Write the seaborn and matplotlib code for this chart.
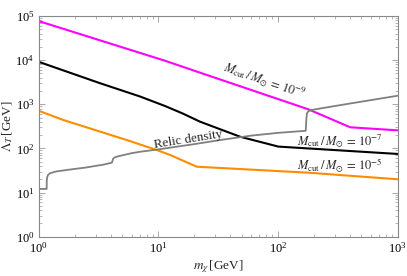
import matplotlib
matplotlib.use("Agg")
import matplotlib.pyplot as plt
import matplotlib.ticker as mticker
import pandas as pd
import seaborn as sns

sns.set_theme(style="ticks")
plt.rcParams["font.family"] = ["Liberation Serif", "DejaVu Serif"]
plt.rcParams["mathtext.fontset"] = "stix"

# M_cut / M_sun = 1e-9 (magenta)
mag_x = [1.0, 11.4, 22.4, 180, 403, 1000]
mag_y = [77000, 9700, 5200, 769, 301, 257]

# M_cut / M_sun = 1e-7 (black)
blk_x = [1.0, 3.27, 7.06, 11.4, 16.0, 22.4, 48.4, 101, 1000]
blk_y = [9200, 3000, 1500, 914, 620, 403, 184, 110, 75]

# M_cut / M_sun = 1e-5 (orange)
org_x = [1.0, 1.61, 5.46, 9.73, 12.6, 21.0, 180, 1000]
org_y = [716, 441, 155, 92, 71, 38.5, 28.2, 20]

# relic density (gray)
rel_x = [1.0, 1.17, 1.172, 1.18, 1.2, 1.25, 1.4, 1.8, 2.5, 3.5, 4.1, 4.15, 4.2, 4.3,
         4.6, 6.0, 7.06, 10, 20, 33, 60, 100, 171, 172, 173, 175, 180, 200, 400, 1000]
rel_y = [12.1, 12.1, 18, 22, 25, 27.5, 30, 33, 37, 43, 47.5, 52, 58, 62,
         66, 78, 84, 95, 125, 155, 195, 225, 251, 330, 450, 620, 700, 760, 1040, 1560]

series = [
    (mag_x, mag_y, "#ff00ff", 1.5),
    (blk_x, blk_y, "#000000", 1.5),
    (org_x, org_y, "#ff8c00", 1.5),
    (rel_x, rel_y, "#808080", 1.3),
]

fig = plt.figure(figsize=(4.07, 2.76), dpi=100)
ax = fig.add_axes([0.0946, 0.1424, 0.8821, 0.7996])

for xs, ys, col, lw in series:
    df = pd.DataFrame({"m": xs, "lam": ys})
    sns.lineplot(data=df, x="m", y="lam", color=col, linewidth=lw,
                 estimator=None, sort=False, ax=ax)

ax.set_xscale("log")
ax.set_yscale("log")
ax.set_xlim(1, 1000)
ax.set_ylim(1, 1e5)

ax.xaxis.set_major_locator(mticker.LogLocator(base=10, numticks=10))
ax.yaxis.set_major_locator(mticker.LogLocator(base=10, numticks=10))
ax.xaxis.set_minor_locator(mticker.LogLocator(base=10, subs=range(2, 10), numticks=20))
ax.yaxis.set_minor_locator(mticker.LogLocator(base=10, subs=range(2, 10), numticks=20))

for s in ax.spines.values():
    s.set_color("#888888")
    s.set_linewidth(0.8)
ax.tick_params(which="both", direction="in", top=True, right=True,
               color="#999999", labelsize=9, labelcolor="black")
ax.tick_params(which="major", length=4, width=0.6, pad=3)
ax.tick_params(which="minor", length=2.2, width=0.5)

ax.set_xlabel(r"$m_\chi\,$[GeV]", fontsize=9.5, labelpad=2)
ax.set_ylabel(r"$\Lambda_T\,$[GeV]", fontsize=9.5, labelpad=0)

ax.text(17.9, 158, "Relic density", fontsize=9.5, rotation=9,
        ha="center", va="center")
ax.text(78, 3370, r"$M_{\rm cut}\,/\,M_{\odot}\,=\,10^{-9}$", fontsize=9,
        rotation=-19, ha="center", va="center")
ax.text(332, 150, r"$M_{\rm cut}\,/\,M_{\odot}\,=\,10^{-7}$", fontsize=9,
        ha="center", va="center")
ax.text(332, 41, r"$M_{\rm cut}\,/\,M_{\odot}\,=\,10^{-5}$", fontsize=9,
        ha="center", va="center")

fig.savefig("out.png", dpi=100)
